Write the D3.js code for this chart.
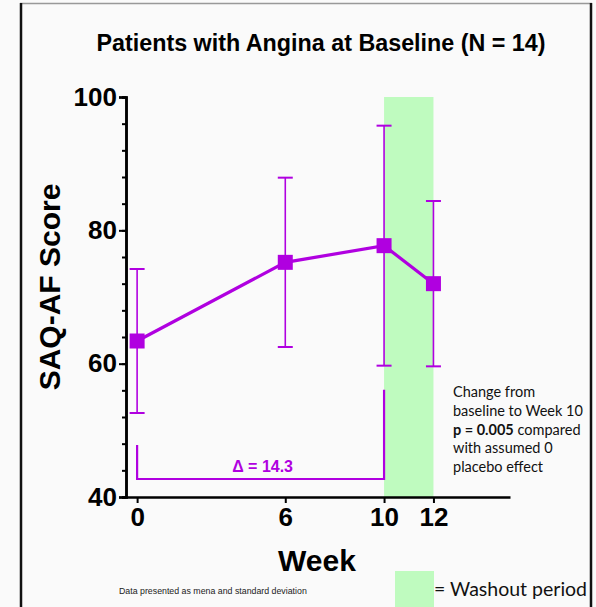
<!DOCTYPE html>
<html>
<head>
<meta charset="utf-8">
<script src="https://cdn.jsdelivr.net/npm/d3@7"></script>
<style>
  html, body { margin: 0; padding: 0; background: #fafafa; }
  svg { display: block; }
</style>
</head>
<body>
<svg id="chart" width="596" height="607"></svg>
<script>
// SAQ-AF score over time, mean ± SD
const weeks = [0, 6, 10, 12];
const means = [63.4, 75.2, 77.7, 72.0];
const sds   = [10.8, 12.7, 18.0, 12.4];
const yMajorTicks = [40, 60, 80, 100];
const yMinorTicks = d3.range(40, 101, 4);
const xTickValues = [0, 6, 10, 12];
const washout = [10, 12];
const delta = 14.3;
const bracketLevels = { left: 47.8, base: 42.7, right: 56.1 };
const noteLines = [
  [{ t: "Change from", b: false }],
  [{ t: "baseline to Week 10", b: false }],
  [{ t: "p = 0.005", b: true }, { t: " compared", b: false }],
  [{ t: "with assumed 0", b: false }],
  [{ t: "placebo effect", b: false }]
];

const purple = "#b000e0";
const green = "#bffbbf";
const svg = d3.select("#chart");

// outer frame
svg.append("line").attr("x1", 20).attr("x2", 592).attr("y1", 3.5).attr("y2", 3.5)
  .attr("stroke", "#999").attr("stroke-width", 1.5);
svg.append("line").attr("x1", 21).attr("x2", 21).attr("y1", 3).attr("y2", 607)
  .attr("stroke", "#111").attr("stroke-width", 2.5);
svg.append("line").attr("x1", 591).attr("x2", 591).attr("y1", 3).attr("y2", 607)
  .attr("stroke", "#111").attr("stroke-width", 2.5);

const x = d3.scaleLinear().domain([-0.45, 15.1]).range([126, 510]);
const y = d3.scaleLinear().domain([40, 100]).range([497, 97]);

// title
svg.append("text").attr("x", 321).attr("y", 51).attr("text-anchor", "middle")
  .attr("font-family", "Liberation Sans, Arial, sans-serif").attr("font-weight", "bold")
  .attr("font-size", 23.3).attr("fill", "#000")
  .text("Patients with Angina at Baseline (N = 14)");

// washout band
svg.append("rect")
  .attr("x", x(washout[0])).attr("width", x(washout[1]) - x(washout[0]))
  .attr("y", y(100)).attr("height", y(40) - y(100))
  .attr("fill", green);

// y axis: minor ticks then major ticks with labels
const yMinor = svg.append("g").attr("transform", `translate(${x(-0.45)},0)`)
  .call(d3.axisLeft(y).tickValues(yMinorTicks).tickSize(4).tickFormat(""));
const yMajor = svg.append("g").attr("transform", `translate(${x(-0.45)},0)`)
  .call(d3.axisLeft(y).tickValues(yMajorTicks).tickSize(7).tickPadding(2));
[yMinor, yMajor].forEach(g => {
  g.select(".domain").attr("stroke", "#000").attr("stroke-width", 2.5);
  g.selectAll(".tick line").attr("stroke", "#000").attr("stroke-width", 2);
});
yMajor.selectAll(".tick text")
  .attr("font-family", "Liberation Sans, Arial, sans-serif").attr("font-weight", "bold")
  .attr("font-size", 26).attr("fill", "#000");

// x axis
const xAxis = svg.append("g").attr("transform", `translate(0,${y(40)})`)
  .call(d3.axisBottom(x).tickValues(xTickValues).tickSize(6).tickSizeOuter(0).tickPadding(5));
xAxis.select(".domain").attr("stroke", "#000").attr("stroke-width", 2.5);
xAxis.selectAll(".tick line").attr("stroke", "#000").attr("stroke-width", 2);
xAxis.selectAll(".tick text")
  .attr("font-family", "Liberation Sans, Arial, sans-serif").attr("font-weight", "bold")
  .attr("font-size", 26).attr("fill", "#000");

// axis titles
svg.append("text").attr("transform", "translate(60,287) rotate(-90)")
  .attr("text-anchor", "middle")
  .attr("font-family", "Liberation Sans, Arial, sans-serif").attr("font-weight", "bold")
  .attr("font-size", 30).attr("fill", "#000").text("SAQ-AF Score");
svg.append("text").attr("x", 317).attr("y", 571).attr("text-anchor", "middle")
  .attr("font-family", "Liberation Sans, Arial, sans-serif").attr("font-weight", "bold")
  .attr("font-size", 30).attr("fill", "#000").text("Week");

// data
const data = weeks.map((w, i) => ({ w, m: means[i], sd: sds[i] }));

// error bars
const eb = svg.append("g").attr("stroke", purple).attr("stroke-width", 1.6).attr("fill", "none");
data.forEach(d => {
  eb.append("line").attr("x1", x(d.w)).attr("x2", x(d.w))
    .attr("y1", y(d.m - d.sd)).attr("y2", y(d.m + d.sd));
  [d.m - d.sd, d.m + d.sd].forEach(v => {
    eb.append("line").attr("x1", x(d.w) - 7.5).attr("x2", x(d.w) + 7.5)
      .attr("y1", y(v)).attr("y2", y(v)).attr("stroke-width", 2);
  });
});

// mean line
svg.append("path").datum(data)
  .attr("d", d3.line().x(d => x(d.w)).y(d => y(d.m)))
  .attr("fill", "none").attr("stroke", purple).attr("stroke-width", 3.2);

// square markers
svg.append("g").selectAll("rect").data(data).join("rect")
  .attr("x", d => x(d.w) - 7.5).attr("y", d => y(d.m) - 7.5)
  .attr("width", 15).attr("height", 15).attr("fill", purple);

// change bracket
const bracket = d3.path();
bracket.moveTo(x(0), y(bracketLevels.left));
bracket.lineTo(x(0), y(bracketLevels.base));
bracket.lineTo(x(10), y(bracketLevels.base));
bracket.lineTo(x(10), y(bracketLevels.right));
svg.append("path").attr("d", bracket.toString())
  .attr("fill", "none").attr("stroke", purple).attr("stroke-width", 2.2);
svg.append("text").attr("x", (x(0) + x(10)) / 2 + 2).attr("y", 472).attr("text-anchor", "middle")
  .attr("font-family", "Liberation Sans, Arial, sans-serif").attr("font-weight", "bold")
  .attr("font-size", 16).attr("fill", purple).text(`Δ = ${delta}`);

// statistical note
const note = svg.append("text")
  .attr("font-family", "Lato, 'Noto Sans', sans-serif").attr("font-size", 14.5).attr("fill", "#111");
noteLines.forEach((parts, i) => {
  const line = note.append("tspan").attr("x", 453).attr("y", 397 + i * 18.8);
  parts.forEach(p => {
    line.append("tspan").attr("font-weight", p.b ? "bold" : "normal").text(p.t);
  });
});

// footnote
svg.append("text").attr("x", 119).attr("y", 594)
  .attr("font-family", "Liberation Sans, Arial, sans-serif").attr("font-size", 8.8).attr("fill", "#222")
  .text("Data presented as mena and standard deviation");

// legend
svg.append("rect").attr("x", 395).attr("y", 571).attr("width", 39).attr("height", 36).attr("fill", green);
svg.append("text").attr("x", 434).attr("y", 596)
  .attr("font-family", "Lato, 'Noto Sans', sans-serif").attr("font-size", 19.5).attr("fill", "#111")
  .text("= Washout period");
</script>
</body>
</html>
